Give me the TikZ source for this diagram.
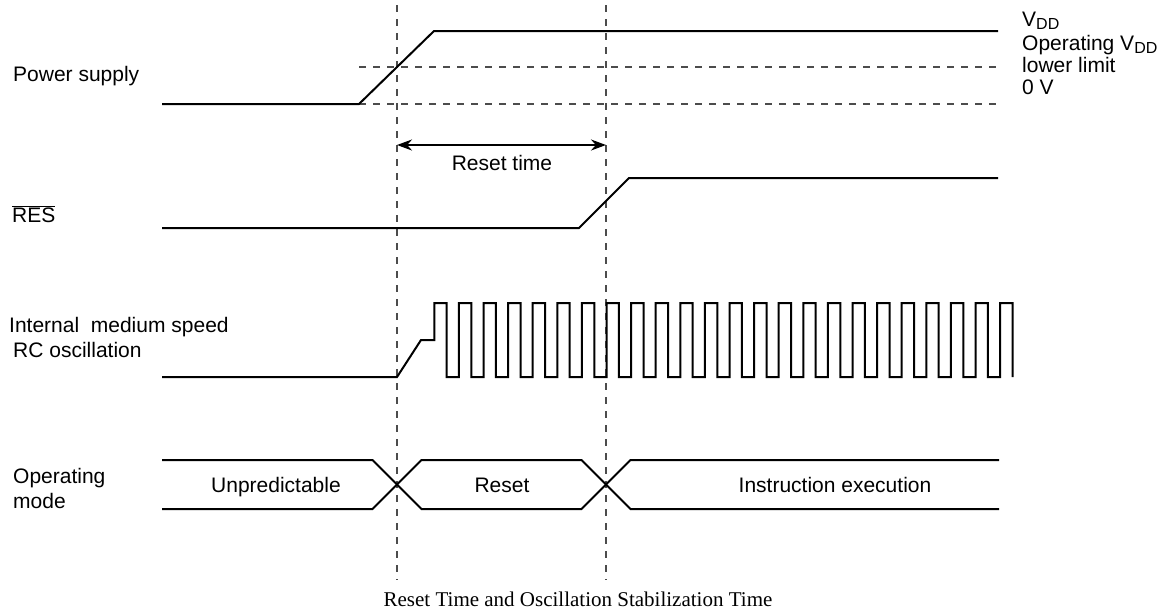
\documentclass[tikz,border=0pt]{standalone}
\usepackage{fontspec}
\setmainfont{Liberation Sans}
\newfontfamily\capfont{Liberation Serif}
\usetikzlibrary{arrows.meta}
\newcommand{\subDD}{\raisebox{-0.35ex}{\fontsize{16}{16}\selectfont DD}}
\begin{document}
\begin{tikzpicture}[x=1pt,y=-1pt,
  sig/.style={line width=2pt,line join=miter},
  guide/.style={line width=1.2pt,black!70,dash pattern=on 7pt off 7pt},
  lbl/.style={anchor=base west,inner sep=0pt,font=\fontsize{21}{25}\selectfont},
  ctr/.style={anchor=base,inner sep=0pt,font=\fontsize{21}{25}\selectfont}]
\useasboundingbox (0,0) rectangle (1164,611);
% guides
\coordinate (g1t) at (397,5);
\coordinate (g1b) at (397,580);
\coordinate (g2t) at (606,5);
\coordinate (g2b) at (606,580);
\draw[guide] (g1t) -- (g1b);
\draw[guide] (g2t) -- (g2b);
\coordinate (llA) at (359,67);
\coordinate (llB) at (998,67);
\coordinate (zA) at (359,104);
\coordinate (zB) at (998,104);
\draw[guide] (llA) -- (llB);
\draw[guide] (zA) -- (zB);
% power supply
\draw[sig] (162,104) -- (359,104) -- (434,31) -- (998,31);
% reset time arrow
\coordinate (ra) at (397,145);
\coordinate (rb) at (606,145);
\draw[line width=2pt,{Stealth[length=15pt,width=11pt]}-{Stealth[length=15pt,width=11pt]}] (ra) -- (rb);
\node[ctr] (rt) at (502,170) {Reset time};
% RES
\draw[sig] (162,228) -- (579,228) -- (629,178) -- (998,178);
% RC oscillation
\draw[sig] (162,377) -- (397,377) -- (421,340) -- (434.3,340)
  foreach \k in {0,...,22} { -- ({434.3+24.6*\k},303) -- ({446.7+24.6*\k},303) -- ({446.7+24.6*\k},377) -- ({458.9+24.6*\k},377) }
  -- (1000.1,303) -- (1012.5,303) -- (1012.5,377);
% operating mode bus
\draw[sig] (162,460) -- (372.5,460) -- (421.5,509) -- (581.5,509) -- (630.5,460) -- (999,460);
\draw[sig] (162,509) -- (372.5,509) -- (421.5,460) -- (581.5,460) -- (630.5,509) -- (999,509);
\node[ctr] (unp) at (276,492) {Unpredictable};
\node[ctr] (rst) at (502,492) {Reset};
\node[ctr] (ins) at (835,492) {Instruction execution};
% left labels
\node[lbl] (ps) at (13,81) {Power supply};
\node[lbl] (res) at (12,222) {$\overline{\hbox{RES}}$};
\node[lbl] (rc1) at (9,332) {Internal\ \ medium speed};
\node[lbl] (rc2) at (13,357) {RC oscillation};
\node[lbl] (om1) at (13,483) {Operating};
\node[lbl] (om2) at (13,508) {mode};
% right labels
\node[lbl] (vdd) at (1022,26) {V\subDD};
\node[lbl] (op1) at (1022,50) {Operating V\subDD};
\node[lbl] (op2) at (1022,72) {lower limit};
\node[lbl] (zv) at (1022,94) {0 V};
% caption
\node[anchor=base,inner sep=0pt,font=\capfont\fontsize{21}{25}\selectfont] (cap) at (578,606) {Reset Time and Oscillation Stabilization Time};
\end{tikzpicture}
\end{document}
